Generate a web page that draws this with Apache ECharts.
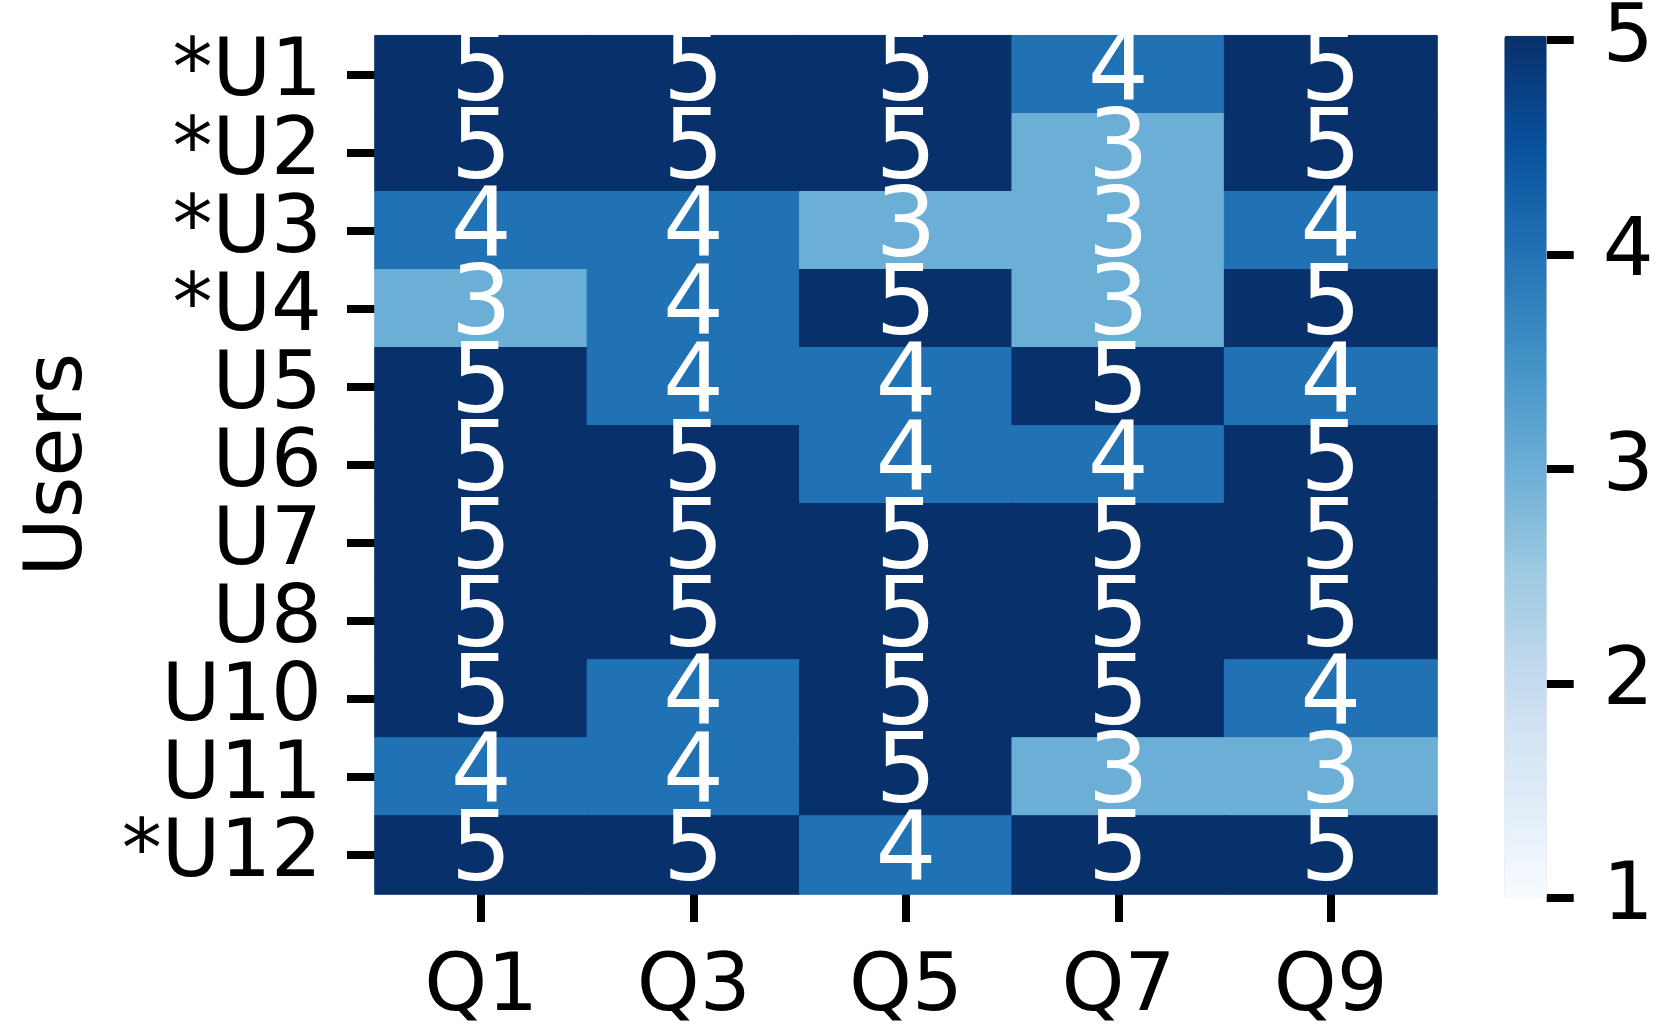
<!DOCTYPE html>
<html>
<head>
<meta charset="utf-8">
<script src="https://cdn.jsdelivr.net/npm/echarts@6/dist/echarts.min.js"></script>
<style>
  html, body { margin: 0; padding: 0; background: #fff; }
  #chart { width: 1673px; height: 1029px; }
</style>
</head>
<body>
<div id="chart"></div>
<script>
// Survey questions (columns) and respondents (rows, top to bottom)
const questions = ['Q1', 'Q3', 'Q5', 'Q7', 'Q9'];
const users = ['*U1', '*U2', '*U3', '*U4', 'U5', 'U6', 'U7', 'U8', 'U10', 'U11', '*U12'];

// Ratings per user, one value per question
const ratings = [
  [5, 5, 5, 4, 5],
  [5, 5, 5, 3, 5],
  [4, 4, 3, 3, 4],
  [3, 4, 5, 3, 5],
  [5, 4, 4, 5, 4],
  [5, 5, 4, 4, 5],
  [5, 5, 5, 5, 5],
  [5, 5, 5, 5, 5],
  [5, 4, 5, 5, 4],
  [4, 4, 5, 3, 3],
  [5, 5, 4, 5, 5]
];

// Colour scale range and its tick labels
const scaleMin = 1;
const scaleMax = 5;
const scaleTicks = [1, 2, 3, 4, 5];

// Sequential blue ramp
const blues = ['#f7fbff', '#deebf7', '#c6dbef', '#9ecae1', '#6baed6',
               '#4292c6', '#2171b5', '#08519c', '#08306b'];

// Each cell gets a thin border in its own fill colour so neighbouring
// cells meet without anti-aliasing seams.
const cells = [];
ratings.forEach((row, r) => row.forEach((v, c) => {
  const t = (v - scaleMin) / (scaleMax - scaleMin);
  cells.push({
    value: [c, r, v],
    itemStyle: { borderColor: echarts.color.lerp(t, blues), borderWidth: 1 }
  });
}));

const FONT = 'DejaVu Sans';
const gridLeft = 375, gridTop = 35.7, gridW = 1062, gridH = 862.3;
const barLeft = 1504.3, barW = 42.4;

const chart = echarts.init(document.getElementById('chart'), null, { renderer: 'canvas' });
chart.setOption({
  animation: false,
  backgroundColor: '#ffffff',
  textStyle: { fontFamily: FONT },
  grid: [
    { left: gridLeft, top: gridTop, width: gridW, height: gridH },
    { left: barLeft, top: gridTop, width: barW, height: gridH }
  ],
  xAxis: [
    {
      type: 'category', gridIndex: 0, data: questions,
      axisLine: { show: false },
      axisTick: { show: true, alignWithLabel: true, length: 28, lineStyle: { color: '#000', width: 8 } },
      axisLabel: { color: '#000', fontSize: 80, fontFamily: FONT, margin: 55, interval: 0 },
      splitLine: { show: false }
    },
    {
      type: 'value', gridIndex: 1, min: 0, max: 1,
      show: false
    }
  ],
  yAxis: [
    {
      type: 'category', gridIndex: 0, data: users, inverse: true,
      name: 'Users', nameLocation: 'middle', nameGap: 275,
      nameTextStyle: { color: '#000', fontSize: 80, fontFamily: FONT },
      axisLine: { show: false },
      axisTick: { show: true, alignWithLabel: true, interval: 0, length: 28, lineStyle: { color: '#000', width: 8 } },
      axisLabel: { color: '#000', fontSize: 80, fontFamily: FONT, margin: 53, interval: 0 },
      splitLine: { show: false }
    },
    {
      type: 'value', gridIndex: 1, position: 'right',
      min: scaleMin, max: scaleMax, interval: 1,
      axisLine: { show: false, onZero: false },
      axisTick: { show: true, inside: false, length: 27, lineStyle: { color: '#000', width: 8 } },
      axisLabel: {
        color: '#000', fontSize: 80, fontFamily: FONT, margin: 56,
        formatter: v => (scaleTicks.indexOf(v) >= 0 ? String(v) : '')
      },
      splitLine: { show: false }
    }
  ],
  visualMap: {
    type: 'continuous',
    min: scaleMin, max: scaleMax,
    seriesIndex: 0,
    calculable: false,
    showLabel: false,
    text: null,
    left: barLeft, top: gridTop,
    itemWidth: barW, itemHeight: gridH,
    padding: 0,
    inRange: { color: blues }
  },
  series: [{
    type: 'heatmap',
    xAxisIndex: 0, yAxisIndex: 0,
    data: cells,
    emphasis: { disabled: true },
    label: {
      show: true, color: '#ffffff', fontSize: 96, fontFamily: FONT,
      formatter: p => String(p.value[2])
    }
  }]
});
</script>
</body>
</html>
